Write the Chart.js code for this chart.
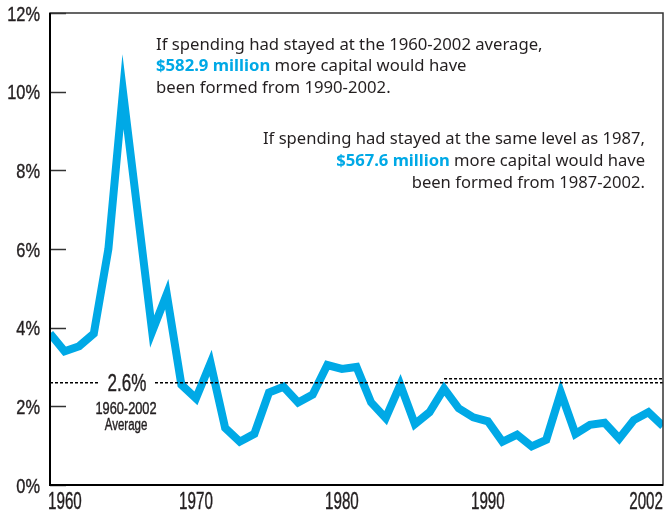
<!DOCTYPE html>
<html>
<head>
<meta charset="utf-8">
<script src="https://cdn.jsdelivr.net/npm/chart.js@4.4.1/dist/chart.umd.min.js"></script>
<style>
  html, body { margin: 0; padding: 0; background: #fff; }
</style>
</head>
<body>
<canvas id="spendChart" width="667" height="515"></canvas>
<script>
// years and spending share (% of capital), 1960-2002
var years = [1960, 1961, 1962, 1963, 1964, 1965, 1966, 1967, 1968, 1969,
             1970, 1971, 1972, 1973, 1974, 1975, 1976, 1977, 1978, 1979,
             1980, 1981, 1982, 1983, 1984, 1985, 1986, 1987, 1988, 1989,
             1990, 1991, 1992, 1993, 1994, 1995, 1996, 1997, 1998, 1999,
             2000, 2001, 2002];
var spending = [3.85, 3.40, 3.53, 3.85, 6.00, 10.00, 6.95, 3.90, 4.85, 2.55,
                2.20, 3.10, 1.45, 1.10, 1.30, 2.35, 2.50, 2.10, 2.30, 3.05,
                2.95, 3.00, 2.10, 1.70, 2.55, 1.55, 1.85, 2.45, 1.95, 1.72,
                1.62, 1.10, 1.28, 0.98, 1.15, 2.35, 1.30, 1.53, 1.58, 1.18,
                1.65, 1.85, 1.50];

var averageValue = 2.6;          // 1960-2002 average
var averageYears = [1960, 2002];
var level1987 = 2.7;             // same level as 1987
var level1987Years = [1987, 2002];

var xTickYears = [1960, 1970, 1980, 1990, 2002];
var yTicks = [0, 2, 4, 6, 8, 10, 12];

var BLUE = '#00a9e6';
var INK = '#231f20';
var LABEL_FONT = '"Liberation Sans", Arial, sans-serif';
var TEXT_FONT = '"Noto Sans", "Open Sans", sans-serif';

var noteAverage = [
    [{ t: 'If spending had stayed at the 1960-2002 average,' }],
    [{ t: '$582.9 million', hi: true }, { t: ' more capital would have' }],
    [{ t: 'been formed from 1990-2002.' }]
];
var note1987 = [
    [{ t: 'If spending had stayed at the same level as 1987,' }],
    [{ t: '$567.6 million', hi: true }, { t: ' more capital would have' }],
    [{ t: 'been formed from 1987-2002.' }]
];

function toPoints(xs, ys) {
    return xs.map(function (x, i) { return { x: x, y: ys[i] }; });
}

// condensed label: squeeze a regular face horizontally, thicken a little
function narrowText(ctx, text, x, y, size, sx, align) {
    ctx.save();
    ctx.font = size + 'px ' + LABEL_FONT;
    ctx.textAlign = align;
    ctx.translate(x, y);
    ctx.scale(sx, 1);
    ctx.strokeStyle = ctx.fillStyle;
    ctx.lineWidth = 0.4;
    ctx.fillText(text, 0, 0);
    ctx.strokeText(text, 0, 0);
    ctx.restore();
}

function drawNote(ctx, lines, x, y0, lineGap, size, align) {
    lines.forEach(function (line, i) {
        var w = 0;
        var fontOf = function (seg) { return (seg.hi ? 'bold ' : '') + size + 'px ' + TEXT_FONT; };
        line.forEach(function (seg) { ctx.font = fontOf(seg); w += ctx.measureText(seg.t).width; });
        var cx = align === 'right' ? x - w : x;
        var y = y0 + i * lineGap;
        line.forEach(function (seg) {
            ctx.font = fontOf(seg);
            ctx.fillStyle = seg.hi ? BLUE : INK;
            ctx.fillText(seg.t, cx, y);
            cx += ctx.measureText(seg.t).width;
        });
    });
}

// frame, axis labels, inner tick marks, average label and notes
var decor = {
    id: 'decor',
    beforeDatasetsDraw: function (chart) {
        chart.ctx.miterLimit = 12;
    },
    afterDatasetsDraw: function (chart) {
        var ctx = chart.ctx, a = chart.chartArea;
        var xs = chart.scales.x, ys = chart.scales.y;
        ctx.save();
        ctx.textBaseline = 'alphabetic';

        // average label sits in a gap of the dotted line
        var avgY = ys.getPixelForValue(averageValue);
        ctx.fillStyle = '#fff';
        ctx.fillRect(100, avgY - 3, 55, 6);
        ctx.fillStyle = INK;
        narrowText(ctx, '2.6%', 127, avgY + 8, 23, 0.74, 'center');
        narrowText(ctx, '1960-2002', 126, avgY + 31, 16, 0.8, 'center');
        narrowText(ctx, 'Average', 126, avgY + 47, 16, 0.72, 'center');

        // notes
        drawNote(ctx, noteAverage, 156, 49.5, 21.5, 16.7, 'left');
        drawNote(ctx, note1987, 645, 143.5, 22, 16.6, 'right');

        // y axis labels
        ctx.fillStyle = INK;
        yTicks.forEach(function (v) {
            narrowText(ctx, v + '%', a.left - 10, ys.getPixelForValue(v) + 7.5, 21, 0.78, 'right');
        });
        // x axis labels: first flush left, last flush right
        xTickYears.forEach(function (v, i) {
            var align = i === 0 ? 'left' : (i === xTickYears.length - 1 ? 'right' : 'center');
            var x = xs.getPixelForValue(v);
            if (i === 0) x -= 2;
            narrowText(ctx, String(v), x, a.bottom + 23.5, 23, 0.66, align);
        });

        // tick marks pointing into the plot
        ctx.strokeStyle = '#333';
        ctx.lineWidth = 1.5;
        yTicks.forEach(function (v) {
            var y = Math.round(ys.getPixelForValue(v)) + 0.5;
            ctx.beginPath();
            ctx.moveTo(a.left, y);
            ctx.lineTo(a.left + 16, y);
            ctx.stroke();
        });

        // frame
        ctx.strokeStyle = '#333';
        ctx.lineWidth = 1.5;
        ctx.strokeRect(a.left, a.top, a.right - a.left, a.bottom - a.top);
        ctx.strokeStyle = '#000';
        ctx.lineWidth = 2;
        ctx.beginPath();
        ctx.moveTo(a.left, a.top);
        ctx.lineTo(a.left, a.bottom);
        ctx.lineTo(a.right, a.bottom);
        ctx.stroke();
        ctx.restore();
    }
};

var chart = new Chart(document.getElementById('spendChart'), {
    type: 'line',
    data: {
        datasets: [{
            label: 'Spending',
            data: toPoints(years, spending),
            borderColor: BLUE,
            borderWidth: 8,
            borderJoinStyle: 'miter',
            pointRadius: 0,
            tension: 0,
            clip: 0,
            order: 2
        }, {
            label: 'Average',
            data: toPoints(averageYears, [averageValue, averageValue]),
            borderColor: '#000',
            borderWidth: 1.5,
            borderDash: [3, 2],
            pointRadius: 0,
            order: 1
        }, {
            label: '1987 level',
            data: toPoints(level1987Years, [level1987, level1987]),
            borderColor: '#000',
            borderWidth: 1.5,
            borderDash: [3, 2],
            pointRadius: 0,
            order: 1
        }]
    },
    options: {
        responsive: false,
        animation: false,
        layout: { padding: { top: 13, right: 4, left: 0, bottom: 0 } },
        plugins: { legend: { display: false }, tooltip: { enabled: false } },
        scales: {
            x: {
                type: 'linear',
                min: 1960,
                max: 2002,
                afterBuildTicks: function (s) { s.ticks = xTickYears.map(function (v) { return { value: v }; }); },
                afterFit: function (s) { s.height = 30; },
                grid: { display: false },
                border: { display: false },
                ticks: { display: false }
            },
            y: {
                min: 0,
                max: 12,
                afterBuildTicks: function (s) { s.ticks = yTicks.map(function (v) { return { value: v }; }); },
                afterFit: function (s) { s.width = 50; },
                grid: { display: false },
                border: { display: false },
                ticks: { display: false }
            }
        }
    },
    plugins: [decor]
});
</script>
</body>
</html>
